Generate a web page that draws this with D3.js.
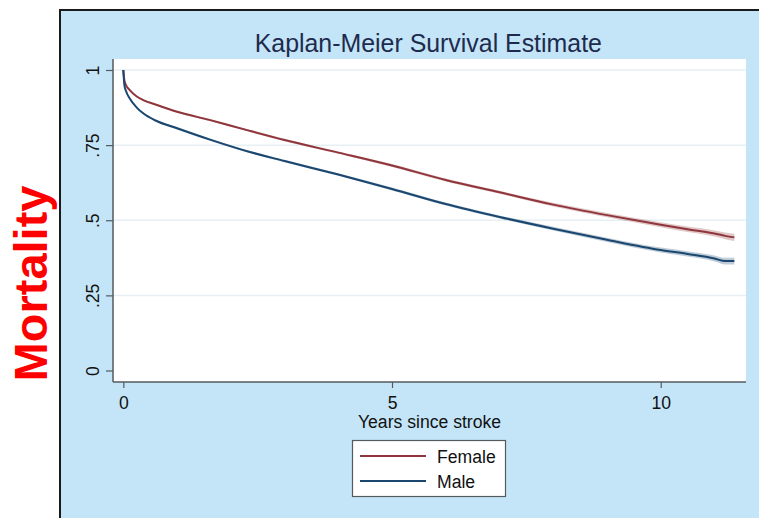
<!DOCTYPE html>
<html>
<head>
<meta charset="utf-8">
<script src="https://cdn.jsdelivr.net/npm/d3@7"></script>
<style>
  html, body { margin: 0; padding: 0; background: #ffffff; }
  svg { display: block; }
</style>
</head>
<body>
<script>
// ---- data ----
const times     = [0, 0.02, 0.05, 0.12, 0.25, 0.37, 0.6, 1, 1.6, 2.2, 3, 4, 5, 6, 7, 8, 9, 10, 10.5, 11, 11.2, 11.37];
const female    = [1, 0.965, 0.95, 0.933, 0.912, 0.9, 0.885, 0.861, 0.834, 0.805, 0.767, 0.725, 0.682, 0.634, 0.593, 0.552, 0.517, 0.485, 0.47, 0.456, 0.448, 0.443];
const femaleLo  = [1, 0.962, 0.947, 0.930, 0.909, 0.897, 0.882, 0.858, 0.830, 0.801, 0.763, 0.721, 0.677, 0.629, 0.588, 0.546, 0.510, 0.477, 0.461, 0.446, 0.437, 0.431];
const femaleHi  = [1, 0.968, 0.953, 0.936, 0.915, 0.903, 0.888, 0.864, 0.838, 0.809, 0.771, 0.729, 0.687, 0.639, 0.598, 0.558, 0.524, 0.493, 0.479, 0.466, 0.459, 0.455];
const male      = [1, 0.95, 0.93, 0.905, 0.875, 0.856, 0.832, 0.806, 0.769, 0.735, 0.697, 0.652, 0.604, 0.554, 0.511, 0.472, 0.435, 0.401, 0.388, 0.373, 0.364, 0.364];
const maleLo    = [1, 0.947, 0.927, 0.902, 0.872, 0.853, 0.829, 0.802, 0.765, 0.731, 0.693, 0.648, 0.599, 0.549, 0.506, 0.466, 0.428, 0.393, 0.379, 0.363, 0.353, 0.353];
const maleHi    = [1, 0.953, 0.933, 0.908, 0.878, 0.859, 0.835, 0.810, 0.773, 0.739, 0.701, 0.656, 0.609, 0.559, 0.516, 0.478, 0.442, 0.409, 0.397, 0.383, 0.375, 0.375];
const yTicks      = [0, 0.25, 0.5, 0.75, 1];
const yTickLabels = ["0", ".25", ".5", ".75", "1"];
const xTicks      = [0, 5, 10];
const seriesNames = ["Female", "Male"];
const titleText   = "Kaplan-Meier Survival Estimate";
const xTitle      = "Years since stroke";
const sideLabel   = "Mortality";

// ---- layout ----
const W = 759, H = 518;
const plot = { left: 113, right: 746, top: 59, bottom: 382 };
const colors = { Female: "#90353b", Male: "#1a476f" };
const bands  = { Female: "rgba(144,53,59,0.28)", Male: "rgba(26,71,111,0.28)" };
const FONT = "Liberation Sans, Arial, sans-serif";

const svg = d3.select("body").append("svg").attr("width", W).attr("height", H);

// outer panel
svg.append("rect").attr("x", 61).attr("y", 11).attr("width", W - 61).attr("height", H - 11).attr("fill", "#c4e5f8");
svg.append("line").attr("x1", 60).attr("x2", 60).attr("y1", 10).attr("y2", H).attr("stroke", "#1a1a1a").attr("stroke-width", 2);
svg.append("line").attr("x1", 59).attr("x2", W).attr("y1", 10).attr("y2", 10).attr("stroke", "#1a1a1a").attr("stroke-width", 2);

// plot region
svg.append("rect").attr("x", plot.left).attr("y", plot.top)
  .attr("width", plot.right - plot.left).attr("height", plot.bottom - plot.top).attr("fill", "#ffffff");

const x = d3.scaleLinear().domain([-0.192, 11.587]).range([plot.left, plot.right]);
const y = d3.scaleLinear().domain([0, 1]).range([370.5, 70]);

// gridlines
svg.append("g").selectAll("line").data(yTicks.filter(d => d > 0)).join("line")
  .attr("x1", plot.left).attr("x2", plot.right)
  .attr("y1", d => y(d)).attr("y2", d => y(d))
  .attr("stroke", "#e6eff3").attr("stroke-width", 1.5);

// series
const series = [
  { name: "Female", v: female, lo: femaleLo, hi: femaleHi },
  { name: "Male",   v: male,   lo: maleLo,   hi: maleHi }
];
const area = d3.area().x(d => x(d.t)).y0(d => y(d.lo)).y1(d => y(d.hi)).curve(d3.curveMonotoneX);
const line = d3.line().x(d => x(d.t)).y(d => y(d.v)).curve(d3.curveMonotoneX);

series.forEach(s => {
  const pts = times.map((t, i) => ({ t, v: s.v[i], lo: s.lo[i], hi: s.hi[i] }));
  svg.append("path").datum(pts).attr("d", area).attr("fill", bands[s.name]);
});
series.forEach(s => {
  const pts = times.map((t, i) => ({ t, v: s.v[i] }));
  svg.append("path").datum(pts).attr("d", line).attr("fill", "none")
    .attr("stroke", colors[s.name]).attr("stroke-width", 2);
});

// axes
const axisColor = "#555a5e";
const yAxis = svg.append("g").attr("transform", `translate(${plot.left},0)`)
  .call(d3.axisLeft(y).tickValues(yTicks).tickSize(7).tickFormat((d, i) => yTickLabels[i]));
yAxis.select(".domain").attr("d", `M0,${plot.top}V${plot.bottom}`).attr("stroke", axisColor).attr("stroke-width", 1.5);
yAxis.selectAll(".tick line").attr("stroke", axisColor).attr("stroke-width", 1.2);
yAxis.selectAll(".tick text")
  .attr("x", null).attr("dy", null)
  .attr("transform", "translate(-14,0) rotate(-90)")
  .attr("text-anchor", "middle")
  .attr("font-family", FONT).attr("font-size", 17.6).attr("fill", "#111");

const xAxis = svg.append("g").attr("transform", `translate(0,${plot.bottom})`)
  .call(d3.axisBottom(x).tickValues(xTicks).tickSize(6).tickFormat(d3.format("d")));
xAxis.select(".domain").attr("d", `M${plot.left},0H${plot.right}`).attr("stroke", axisColor).attr("stroke-width", 1.5);
xAxis.selectAll(".tick line").attr("stroke", axisColor).attr("stroke-width", 1.2);
xAxis.selectAll(".tick text").attr("y", 27).attr("dy", null)
  .attr("font-family", FONT).attr("font-size", 17.6).attr("fill", "#111");

// title
svg.append("text").attr("x", 428.3).attr("y", 52).attr("text-anchor", "middle")
  .attr("font-family", FONT).attr("font-size", 24.9).attr("fill", "#1e2b4d")
  .text(titleText);

// x title
svg.append("text").attr("x", 429.5).attr("y", 428).attr("text-anchor", "middle")
  .attr("font-family", FONT).attr("font-size", 17.6).attr("fill", "#111")
  .text(xTitle);

// legend
const lg = svg.append("g");
lg.append("rect").attr("x", 352.5).attr("y", 440.5).attr("width", 153).attr("height", 56)
  .attr("fill", "#ffffff").attr("stroke", "#555a5e").attr("stroke-width", 1.2);
seriesNames.forEach((n, i) => {
  const yy = 456 + i * 25;
  lg.append("line").attr("x1", 360).attr("x2", 426).attr("y1", yy).attr("y2", yy)
    .attr("stroke", colors[n]).attr("stroke-width", 1.8);
  lg.append("text").attr("x", 437).attr("y", yy + 6.5)
    .attr("font-family", FONT).attr("font-size", 17.6).attr("fill", "#111")
    .text(n);
});

// side label
svg.append("text").attr("transform", "translate(47,283.5) rotate(-90)").attr("text-anchor", "middle")
  .attr("font-family", FONT).attr("font-weight", "bold")
  .attr("font-size", 47).attr("fill", "#ff0000")
  .text(sideLabel);
</script>
</body>
</html>
